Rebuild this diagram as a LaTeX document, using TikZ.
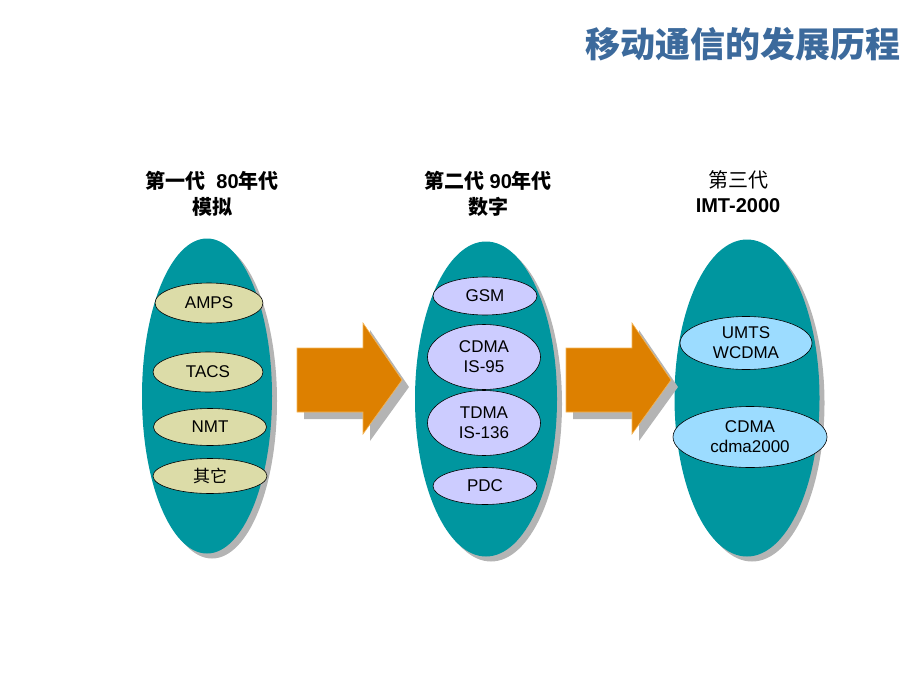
\documentclass[tikz,border=0pt]{standalone}
\usepackage{fontspec}
\setmainfont{Liberation Sans}
\newfontfamily\cjk{Noto Sans CJK SC}
\usetikzlibrary{shapes.geometric,shadows}
\definecolor{gteal}{HTML}{00969F}
\definecolor{garrow}{HTML}{DD8000}
\definecolor{garrowedge}{HTML}{F4B455}
\definecolor{gshadow}{HTML}{B4B4B4}
\definecolor{gone}{HTML}{DCDCA8}
\definecolor{gtwo}{HTML}{CCCCFF}
\definecolor{gthree}{HTML}{9CDCFF}
\definecolor{gtitle}{HTML}{3C6A9C}

\begin{document}
\begin{tikzpicture}[x=1pt, y=-1pt,
  gen/.style={ellipse, fill=gteal, inner sep=0pt,
    general shadow={fill=gshadow, shadow xshift=5pt, shadow yshift=-5pt}},
  tech/.style={ellipse, draw=black, line width=0.6pt, inner sep=0pt,
    align=center, font=\fontsize{17}{20}\selectfont},
  head/.style={align=center, font=\bfseries\fontsize{20}{26}\selectfont},
  blockarrow/.style={fill=garrow, draw=garrowedge, line width=0.6pt,
    general shadow={fill=gshadow, shadow xshift=7pt, shadow yshift=-7pt}}]
  % page is 920 x 690, y grows downwards
  \useasboundingbox (0,0) rectangle (920,690);

  % title
  \node[font=\bfseries\fontsize{35}{40}\selectfont, text=gtitle] (title)
    at (743,44) {\cjk 移动通信的发展历程};

  % the three generations
  \node[gen, minimum width=130pt, minimum height=315pt] (gen1) at (207,396) {};
  \node[gen, minimum width=142pt, minimum height=315pt] (gen2) at (486,399) {};
  \node[gen, minimum width=145pt, minimum height=317pt] (gen3) at (747,398) {};

  \node[head] (head1) at (212,194) {{\cjk 第一代}\ \ 80{\cjk 年代}\\{\cjk 模拟}};
  \node[head] (head2) at (488,194) {{\cjk 第二代} 90{\cjk 年代}\\{\cjk 数字}};
  \node[head, font=\fontsize{20}{25}\selectfont] (head3) at (738,192)
    {{\cjk 第三代}\\\bfseries IMT-2000};

  % first generation: analogue
  \node[tech, fill=gone, minimum width=108pt, minimum height=40pt] (amps) at (209,303) {AMPS};
  \node[tech, fill=gone, minimum width=110pt, minimum height=40pt] (tacs) at (208,372) {TACS};
  \node[tech, fill=gone, minimum width=113pt, minimum height=37pt] (nmt) at (210,427) {NMT};
  \node[tech, fill=gone, minimum width=114pt, minimum height=35pt] (other) at (210,476) {\cjk 其它};

  % second generation: digital
  \node[tech, fill=gtwo, minimum width=104pt, minimum height=38pt] (gsm) at (485,296) {GSM};
  \node[tech, fill=gtwo, minimum width=113pt, minimum height=65pt] (cdma) at (484,357) {CDMA\\IS-95};
  \node[tech, fill=gtwo, minimum width=113pt, minimum height=65pt] (tdma) at (484,423) {TDMA\\IS-136};
  \node[tech, fill=gtwo, minimum width=104pt, minimum height=37pt] (pdc) at (485,486) {PDC};

  % third generation
  \node[tech, fill=gthree, minimum width=132pt, minimum height=53pt] (umts) at (746,343) {UMTS\\WCDMA};
  \node[tech, fill=gthree, minimum width=154pt, minimum height=61pt] (cdmatwo) at (750,437) {CDMA\\cdma2000};

  % block arrows between generations
  \foreach \x in {297,566}
    \draw[blockarrow, shift={(\x,0)}]
      (0,348) -- (66,348) -- (66,323) -- (105,380) -- (66,434) -- (66,412) -- (0,412) -- cycle;
\end{tikzpicture}
\end{document}
